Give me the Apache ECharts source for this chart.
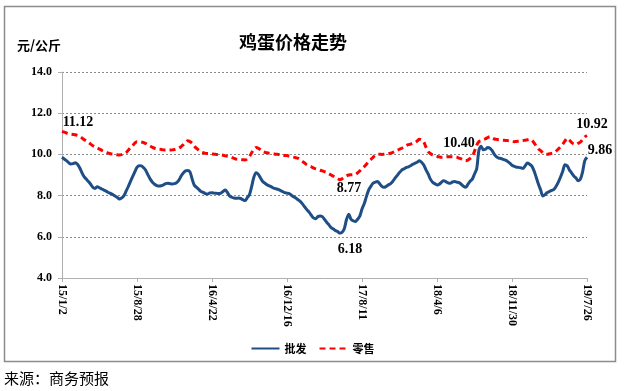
<!DOCTYPE html>
<html><head><meta charset="utf-8">
<script src="https://cdn.jsdelivr.net/npm/echarts@6/dist/echarts.min.js"></script>
<style>html,body{margin:0;padding:0;background:#fff;}#c{width:625px;height:391px;}</style>
</head><body><div id="c"></div>
<script>
// Weekly dates from 2015/1/2 to 2019/7/26 (239 weeks)
const startDate = [2015, 0, 2];
const weekCount = 239;
const categories = [];
for (let i = 0; i < weekCount; i++) {
  const d = new Date(Date.UTC(startDate[0], startDate[1], startDate[2] + i * 7));
  categories.push(String(d.getUTCFullYear()).slice(2) + '/' + (d.getUTCMonth() + 1) + '/' + d.getUTCDate());
}
const yTicks = [4.0, 6.0, 8.0, 10.0, 12.0, 14.0];

const wholesale = [
9.86,9.78,9.70,9.60,9.53,9.55,9.60,9.52,9.35,9.12,
8.92,8.80,8.68,8.55,8.40,8.35,8.43,8.38,8.32,8.27,
8.22,8.15,8.11,8.05,7.98,7.92,7.83,7.88,7.98,8.20,
8.43,8.68,8.92,9.15,9.37,9.45,9.44,9.35,9.22,9.00,
8.80,8.65,8.55,8.48,8.46,8.48,8.52,8.58,8.60,8.58,
8.56,8.58,8.63,8.75,8.95,9.10,9.20,9.22,9.15,8.80,
8.50,8.40,8.30,8.20,8.16,8.10,8.08,8.13,8.14,8.12,
8.11,8.10,8.12,8.20,8.27,8.15,7.98,7.92,7.88,7.87,
7.88,7.86,7.80,7.76,7.90,8.05,8.45,8.90,9.11,9.03,
8.85,8.68,8.60,8.52,8.47,8.42,8.36,8.33,8.30,8.25,
8.20,8.14,8.12,8.10,8.02,7.94,7.88,7.80,7.72,7.60,
7.45,7.32,7.20,7.05,6.92,6.88,6.98,7.01,6.98,6.85,
6.70,6.58,6.45,6.38,6.30,6.25,6.18,6.22,6.40,6.85,
7.10,6.85,6.78,6.74,6.85,7.00,7.35,7.60,7.95,8.27,
8.45,8.60,8.65,8.68,8.58,8.45,8.40,8.45,8.52,8.58,
8.70,8.85,8.98,9.12,9.24,9.30,9.36,9.40,9.45,9.52,
9.57,9.62,9.69,9.62,9.48,9.25,9.05,8.80,8.65,8.58,
8.52,8.55,8.65,8.72,8.68,8.62,8.60,8.66,8.68,8.65,
8.63,8.55,8.45,8.40,8.55,8.70,8.80,9.05,9.30,10.20,
10.40,10.22,10.25,10.34,10.30,10.18,10.00,9.88,9.82,9.80,
9.76,9.72,9.66,9.58,9.47,9.42,9.38,9.37,9.35,9.32,
9.45,9.58,9.52,9.43,9.20,8.88,8.55,8.27,7.98,8.05,
8.15,8.20,8.25,8.30,8.45,8.65,8.90,9.18,9.50,9.45,
9.25,9.10,8.95,8.85,8.72,8.80,9.15,9.70,9.86
];
const retail = [
11.12,11.08,11.04,11.01,10.99,10.97,10.95,10.92,10.88,10.80,
10.72,10.65,10.58,10.50,10.42,10.36,10.31,10.26,10.20,10.14,
10.10,10.06,10.03,10.02,10.00,9.98,9.97,9.99,10.03,10.08,
10.20,10.32,10.42,10.55,10.62,10.62,10.60,10.57,10.53,10.46,
10.40,10.34,10.30,10.27,10.25,10.24,10.22,10.21,10.21,10.21,
10.22,10.24,10.27,10.30,10.38,10.47,10.58,10.66,10.62,10.54,
10.40,10.29,10.20,10.12,10.08,10.05,10.04,10.03,10.02,10.01,
10.00,9.99,9.98,9.96,9.93,9.91,9.89,9.85,9.81,9.77,
9.76,9.75,9.74,9.73,9.78,9.90,10.08,10.25,10.34,10.30,
10.22,10.13,10.10,10.08,10.06,10.05,10.03,10.01,10.00,9.99,
9.97,9.95,9.94,9.92,9.90,9.87,9.84,9.81,9.74,9.66,
9.58,9.50,9.44,9.40,9.34,9.30,9.27,9.23,9.20,9.16,
9.12,9.06,9.00,8.94,8.88,8.82,8.77,8.82,8.90,8.96,
9.00,9.01,9.02,9.03,9.10,9.20,9.30,9.40,9.52,9.64,
9.75,9.86,9.95,10.00,10.01,10.00,10.01,10.02,10.03,10.06,
10.10,10.15,10.20,10.25,10.30,10.36,10.42,10.47,10.50,10.54,
10.58,10.65,10.73,10.70,10.60,10.35,10.13,10.04,9.97,9.93,
9.90,9.88,9.86,9.87,9.88,9.89,9.89,9.88,9.87,9.86,
9.82,9.78,9.73,9.69,9.72,9.80,9.90,10.15,10.45,10.62,
10.66,10.72,10.76,10.82,10.86,10.80,10.75,10.73,10.71,10.70,
10.69,10.68,10.67,10.66,10.64,10.62,10.63,10.64,10.65,10.67,
10.69,10.71,10.73,10.68,10.56,10.40,10.26,10.18,10.08,10.02,
10.01,10.03,10.05,10.08,10.16,10.26,10.37,10.50,10.65,10.78,
10.70,10.58,10.50,10.49,10.54,10.60,10.72,10.85,10.92
];
// annotated points: [index, text]
const wholesaleNotes = [[126, '6.18'], [190, '10.40'], [238, '9.86']];
const retailNotes = [[0, '11.12'], [126, '8.77'], [238, '10.92']];

const serif = '"Liberation Serif","Times New Roman",serif';
const cjk = '"Noto Sans CJK SC","Noto Sans",sans-serif';
const noteOffsets = { '6.18': [10, 16], '10.40': [-22, -3], '9.86': [13, -7], '11.12': [16, -9], '8.77': [9, 9], '10.92': [5, -11] };
function mk(notes, data) {
  return {
    symbol: 'circle', symbolSize: 0, animation: false,
    label: { show: true, color: '#000', fontFamily: serif, fontWeight: 'bold', fontSize: 14 },
    data: notes.map(n => ({ coord: [n[0], data[n[0]]], value: n[1],
      label: { formatter: n[1], offset: noteOffsets[n[1]] } }))
  };
}

const chart = echarts.init(document.getElementById('c'));
chart.setOption({
  animation: false,
  backgroundColor: '#fff',
  title: { text: '鸡蛋价格走势', left: 288, top: 28, textAlign: 'center',
    textStyle: { fontFamily: cjk, fontWeight: 'bold', fontSize: 18, color: '#000' } },
  graphic: [
    { type: 'rect', shape: { x: 4.5, y: 6.5, width: 611, height: 355 }, style: { fill: null, stroke: '#8c8c8c', lineWidth: 1.5 }, z: 100 },
    { type: 'text', left: 17, top: 39, style: { text: '元/公斤', font: 'bold 13px ' + cjk, fill: '#000' } },
    { type: 'text', left: 4, top: 371, style: { text: '来源：商务预报', font: '15px ' + cjk, fill: '#000' } }
  ],
  legend: { left: 'center', top: 338, itemWidth: 28, itemHeight: 10, itemGap: 12,
    itemStyle: { opacity: 0 },
    textStyle: { fontFamily: cjk, fontWeight: 'bold', fontSize: 11, color: '#000' },
    data: ['批发', '零售'] },
  grid: { left: 62, right: 38, top: 72, bottom: 113 },
  xAxis: {
    type: 'category', data: categories, boundaryGap: false,
    axisLine: { lineStyle: { color: '#b0b0b0' } },
    axisTick: { show: true, interval: 33, length: 4, lineStyle: { color: '#b0b0b0' } },
    axisLabel: { interval: 33, rotate: -90, margin: 6, color: '#000', fontFamily: serif, fontWeight: 'bold', fontSize: 12 },
    splitLine: { show: false }
  },
  yAxis: {
    type: 'value', min: yTicks[0], max: yTicks[yTicks.length - 1], interval: 2,
    axisLine: { show: true, lineStyle: { color: '#b0b0b0' } },
    axisTick: { show: true, length: 4, lineStyle: { color: '#b0b0b0' } },
    axisLabel: { formatter: v => v.toFixed(1), margin: 10, color: '#000', fontFamily: serif, fontWeight: 'bold', fontSize: 12 },
    splitLine: { lineStyle: { color: '#8a8a8a', type: [2, 2], width: 1 } }
  },
  series: [
    { name: '批发', type: 'line', data: wholesale, symbol: 'none', smooth: 0.3,
      lineStyle: { color: '#1f4e86', width: 3 }, itemStyle: { color: '#1f4e86' },
      markPoint: mk(wholesaleNotes, wholesale) },
    { name: '零售', type: 'line', data: retail, symbol: 'none', smooth: 0.3,
      lineStyle: { color: '#ff0000', width: 3, type: [6, 4] }, itemStyle: { color: '#ff0000' },
      markPoint: mk(retailNotes, retail) }
  ]
});
</script></body></html>
